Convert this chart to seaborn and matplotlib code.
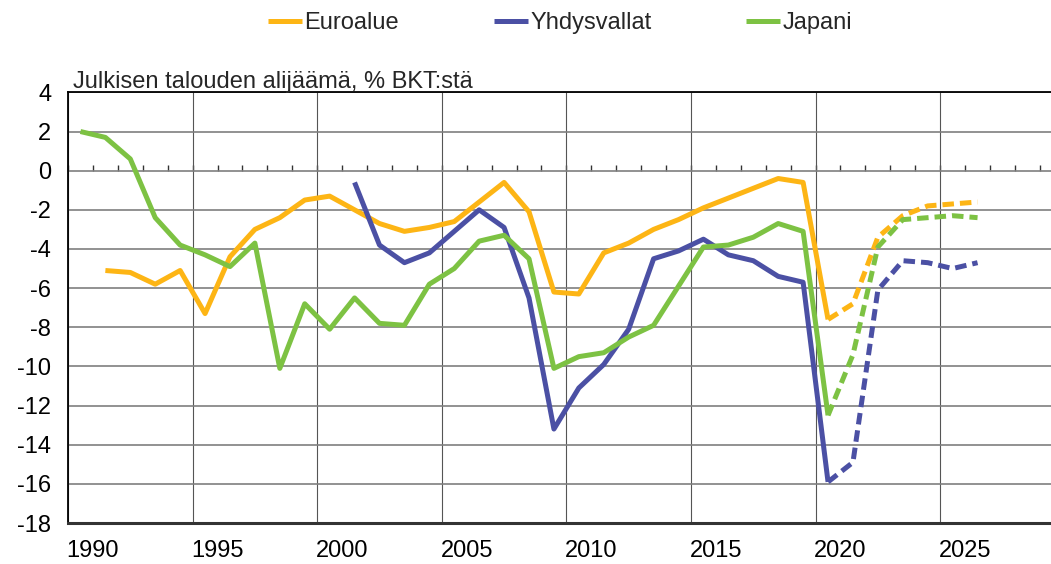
import numpy as np
import pandas as pd
import matplotlib
matplotlib.use("Agg")
import matplotlib.pyplot as plt
from matplotlib.lines import Line2D
from matplotlib.ticker import FixedLocator
import seaborn as sns

# Julkisen talouden alijäämä, % BKT:stä (luettu kuvasta, 2021- ennuste)
regions = ["Euroalue", "Yhdysvallat", "Japani"]

euro_years = list(range(1991, 2027))
euro_vals = [-5.1, -5.2, -5.8, -5.1, -7.3, -4.4, -3.0, -2.4, -1.5, -1.3,
             -2.0, -2.7, -3.1, -2.9, -2.6, -1.6, -0.6, -2.1, -6.2, -6.3,
             -4.2, -3.7, -3.0, -2.5, -1.9, -1.4, -0.9, -0.4, -0.6, -7.6,
             -6.8, -3.4, -2.3, -1.8, -1.7, -1.6]

us_years = list(range(2001, 2027))
us_vals = [-0.6, -3.8, -4.7, -4.2, -3.1, -2.0, -2.9, -6.5, -13.2, -11.1,
           -9.9, -8.1, -4.5, -4.1, -3.5, -4.3, -4.6, -5.4, -5.7, -15.9,
           -14.9, -6.1, -4.6, -4.7, -5.0, -4.7]

jp_years = list(range(1990, 2027))
jp_vals = [2.0, 1.7, 0.6, -2.4, -3.8, -4.3, -4.9, -3.7, -10.1, -6.8,
           -8.1, -6.5, -7.8, -7.9, -5.8, -5.0, -3.6, -3.3, -4.5, -10.1,
           -9.5, -9.3, -8.5, -7.9, -5.9, -3.9, -3.8, -3.4, -2.7, -3.1,
           -12.5, -9.4, -3.9, -2.5, -2.4, -2.3, -2.4]

last_actual = 2020
label_years = [1990, 1995, 2000, 2005, 2010, 2015, 2020, 2025]

colors = {"Euroalue": "#FDB515", "Yhdysvallat": "#4B50A4", "Japani": "#7DC243"}

rows = []
for reg, yrs, vals in [("Euroalue", euro_years, euro_vals),
                       ("Yhdysvallat", us_years, us_vals),
                       ("Japani", jp_years, jp_vals)]:
    for y, v in zip(yrs, vals):
        if y <= last_actual:
            rows.append((reg, y, v, "toteutunut"))
        if y >= last_actual:
            rows.append((reg, y, v, "ennuste"))
df = pd.DataFrame(rows, columns=["alue", "vuosi", "arvo", "tyyppi"])

sns.set_theme(style="white")
plt.rcParams["font.family"] = ["Liberation Sans", "DejaVu Sans"]
plt.rcParams["axes.unicode_minus"] = False

fs = 17

fig = plt.figure(figsize=(10.51, 5.64), dpi=100)
ax = fig.add_axes([68 / 1051, 41 / 564, 0.9484, 0.7635])

sns.lineplot(data=df, x="vuosi", y="arvo", hue="alue", style="tyyppi",
             units="alue", estimator=None, hue_order=regions, palette=colors,
             style_order=["toteutunut", "ennuste"],
             dashes={"toteutunut": "", "ennuste": (2.3, 1.2)},
             linewidth=3.6, legend=False, ax=ax, zorder=3)
for ln in ax.get_lines():
    ln.set_solid_capstyle("butt")
    ln.set_dash_capstyle("butt")

# akselit: vuoden arvo piirretään vuoden keskelle, rajat ja nimiöt vuoden alkuun
ax.set_xlim(1989.5, 2029.5)
ax.set_ylim(-18, 4)
ax.set_yticks(np.arange(-18, 5, 2))
ax.set_xticks([y + 0.5 for y in label_years])
ax.set_xticklabels([str(y) for y in label_years])
ax.xaxis.set_minor_locator(FixedLocator([y - 0.5 for y in label_years] + [2029.5]))
ax.tick_params(axis="x", which="both", length=0, pad=12, labelsize=fs, colors="black")
ax.tick_params(axis="y", length=0, pad=12, labelsize=fs, colors="black")
ax.set_xlabel("")
ax.set_ylabel("")

ax.grid(False)
ax.yaxis.grid(True, color="#7f7f7f", linewidth=1.2, zorder=0)
ax.xaxis.grid(True, which="minor", color="#555555", linewidth=0.8, zorder=0)

for side in ["top", "left"]:
    ax.spines[side].set_visible(True)
    ax.spines[side].set_color("black")
    ax.spines[side].set_linewidth(1.3)
ax.spines["right"].set_visible(False)
ax.spines["bottom"].set_color("#333333")
ax.spines["bottom"].set_linewidth(2.2)

# vuosittaiset väkäset nollatasolla
zero_frac = (0 - (-18)) / (4 - (-18))
sec = ax.secondary_xaxis(zero_frac)
for s in sec.spines.values():
    s.set_visible(False)
sec.set_xticks([y + 0.5 for y in range(1989, 2030)])
sec.tick_params(axis="x", direction="out", length=4, width=1.0, colors="#333333",
                labelbottom=False, labeltop=False)

fig.text(73 / 1051, 1 - 88 / 564, "Julkisen talouden alijäämä, % BKT:stä",
         fontsize=fs, ha="left", va="baseline")

handles = [Line2D([0], [0], color=colors[r], linewidth=3.6, solid_capstyle="butt")
           for r in regions]
fig.legend(handles, regions, loc="center", bbox_to_anchor=(560 / 1051, 1 - 23 / 564),
           ncol=3, frameon=False, fontsize=fs, handlelength=1.45,
           handletextpad=0.1, columnspacing=4.0)

fig.savefig("out.png", dpi=100)
